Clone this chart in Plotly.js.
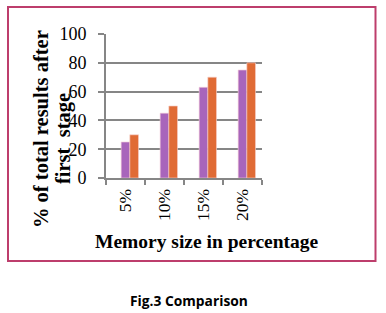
<!DOCTYPE html>
<html>
<head>
<meta charset="utf-8">
<script src="https://cdn.plot.ly/plotly-3.0.1.min.js"></script>
<style>
  html, body { margin: 0; padding: 0; background: #fff; }
  #chart { width: 386px; height: 313px; }
</style>
</head>
<body>
<div id="chart"></div>
<script>
// ---- data ----
const categories = ['5%', '10%', '15%', '20%'];
const seriesBlank = [null, null, null, null];   // empty first series (keeps Excel's group offset)
const seriesPurple = [25, 45, 63, 75];
const seriesOrange = [30, 50, 70, 80];
const yTickValues = [0, 20, 40, 60, 80, 100];
const yTickLabels = ['0', '20', '40', '60', '80', '100'];
const xTitle = 'Memory size in percentage';
const yTitleLine1 = '% of total results after';
const yTitleLine2 = 'first\u00a0 stage';
const caption = 'Fig.3 Comparison';

// ---- layout geometry (pixels) ----
const W = 386, H = 313;
const L = 106, R = 262, T = 34, B = 178;
const px = v => (v - L) / (R - L);
const py = v => (B - v) / (B - T);

const serif = 'Liberation Serif';
const gridColor = '#868686';

const traces = [
  { type: 'bar', x: categories, y: seriesBlank, name: 'S1', marker: { color: '#4f81bd' } },
  { type: 'bar', x: categories, y: seriesPurple, name: 'S2',
    marker: { color: '#a865bb', line: { color: 'rgba(245,205,215,0.8)', width: 0.8 } } },
  { type: 'bar', x: categories, y: seriesOrange, name: 'S3',
    marker: { color: '#e06b35', line: { color: 'rgba(245,205,200,0.8)', width: 0.8 } } }
];

const layout = {
  width: W, height: H, autosize: false,
  font: { family: serif, size: 17, color: '#000' },
  margin: { l: L, r: W - R, t: T, b: H - B, pad: 0 },
  paper_bgcolor: '#ffffff', plot_bgcolor: '#ffffff',
  showlegend: false,
  barmode: 'group', bargap: 0.333, bargroupgap: 0,
  xaxis: {
    type: 'category', automargin: false,
    showline: true, linecolor: gridColor, linewidth: 2,
    showgrid: false, zeroline: false,
    ticks: 'outside', tickson: 'boundaries', ticklen: 5, tickwidth: 2, tickcolor: gridColor,
    tickangle: -90, ticklabelstandoff: 2,
    tickfont: { family: serif, size: 17.5, color: '#000' }
  },
  yaxis: {
    range: [0, 100], automargin: false,
    tickvals: yTickValues, ticktext: yTickLabels,
    showline: true, linecolor: gridColor, linewidth: 2,
    showgrid: true, gridcolor: gridColor, gridwidth: 2,
    zeroline: false,
    ticks: 'outside', ticklen: 6, tickwidth: 2, tickcolor: gridColor,
    ticklabelstandoff: 8,
    tickfont: { family: serif, size: 18, color: '#000' }
  },
  annotations: [
    { text: '<b>' + xTitle + '</b>', xref: 'paper', yref: 'paper',
      x: px(207), y: py(241), xanchor: 'center', yanchor: 'middle', showarrow: false,
      font: { family: serif, size: 19.5, color: '#000' } },
    { text: '<b>' + yTitleLine1 + '</b>', xref: 'paper', yref: 'paper', textangle: -90,
      x: px(41), y: py(129), xanchor: 'center', yanchor: 'middle', showarrow: false,
      font: { family: serif, size: 20.5, color: '#000' } },
    { text: '<b>' + yTitleLine2 + '</b>', xref: 'paper', yref: 'paper', textangle: -90,
      x: px(63), y: py(139), xanchor: 'center', yanchor: 'middle', showarrow: false,
      font: { family: serif, size: 20.5, color: '#000' } },
    { text: '<b>' + caption + '</b>', xref: 'paper', yref: 'paper',
      x: px(188.5), y: py(300.5), xanchor: 'center', yanchor: 'middle', showarrow: false,
      font: { family: 'Open Sans', size: 13.8, color: '#000' } }
  ],
  shapes: [
    { type: 'rect', xref: 'paper', yref: 'paper', layer: 'below',
      x0: px(8), x1: px(375.5), y0: py(7), y1: py(261),
      line: { color: '#bd3e6c', width: 2 }, fillcolor: 'rgba(0,0,0,0)' }
  ]
};

Plotly.newPlot('chart', traces, layout, { staticPlot: true, displayModeBar: false });
</script>
</body>
</html>
